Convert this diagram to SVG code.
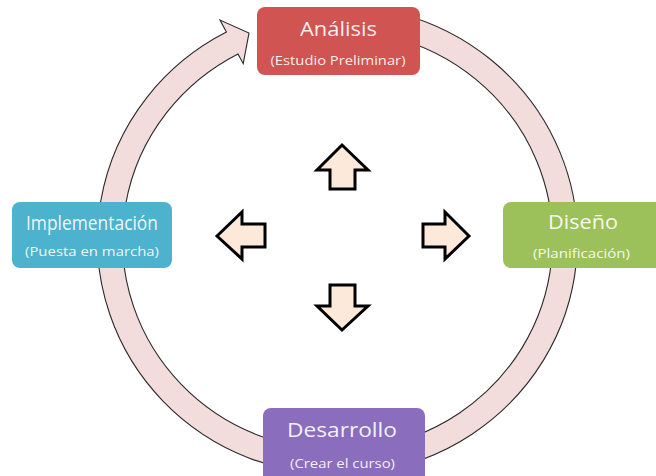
<svg xmlns="http://www.w3.org/2000/svg" width="656" height="476" viewBox="0 0 656 476">
<style>
.ring{fill:#f2dcdc;stroke:#2a2a2a;stroke-width:1.1;stroke-linejoin:miter}
.box{stroke:none}
.t{font-family:"Open Sans","Liberation Sans",sans-serif;fill:#ffffff;fill-opacity:0.92;text-anchor:middle}
.h{font-size:20px}
.s{font-size:12.5px}
.blk{fill:#fde9d9;stroke:#000;stroke-width:3;stroke-linejoin:miter}
</style>
<rect width="656" height="476" fill="#ffffff"/>
<g id="connectors">
<path class="ring" d="M399.6,13.5 A240,234.5 0 1 1 226.4,32.1 L220,20.1 L249,33 L243.2,63.7 L238,53.9 A215,210 0 1 0 393.1,37.2 Z"/>
<polygon class="blk" points="342,145 368,170 355,170 355,189 330,189 330,170 317,170"/>
<polygon class="blk" points="342,330 368,306 355,306 355,285 330,285 330,306 317,306"/>
<polygon class="blk" points="217,236 242,212 242,224 265,224 265,247 242,247 242,259"/>
<polygon class="blk" points="469,236 445,212 445,224 423,224 423,247 445,247 445,259"/>
</g>
<g id="analisis">
<rect class="box" x="257" y="7" width="163" height="68" rx="8" fill="#d05451"/>
<text class="t h" x="338.5" y="36" textLength="77" lengthAdjust="spacingAndGlyphs">Análisis</text>
<text class="t s" x="338" y="65" textLength="135" lengthAdjust="spacingAndGlyphs">(Estudio Preliminar)</text>
</g>
<g id="diseno">
<rect class="box" x="503" y="202" width="165" height="66" rx="8" fill="#9cc15b"/>
<text class="t h" x="583" y="229" textLength="70" lengthAdjust="spacingAndGlyphs">Diseño</text>
<text class="t s" x="581.5" y="258" textLength="97" lengthAdjust="spacingAndGlyphs">(Planificación)</text>
</g>
<g id="desarrollo">
<rect class="box" x="263" y="408" width="162" height="80" rx="8" fill="#8a6dbd"/>
<text class="t h" x="342" y="437" textLength="110" lengthAdjust="spacingAndGlyphs">Desarrollo</text>
<text class="t s" x="342.5" y="468" textLength="105" lengthAdjust="spacingAndGlyphs">(Crear el curso)</text>
</g>
<g id="implementacion">
<rect class="box" x="12" y="202" width="160" height="66" rx="8" fill="#4db2cd"/>
<text class="t h" x="92" y="230" textLength="132" lengthAdjust="spacingAndGlyphs">Implementación</text>
<text class="t s" x="92" y="256" textLength="134" lengthAdjust="spacingAndGlyphs">(Puesta en marcha)</text>
</g>
</svg>
